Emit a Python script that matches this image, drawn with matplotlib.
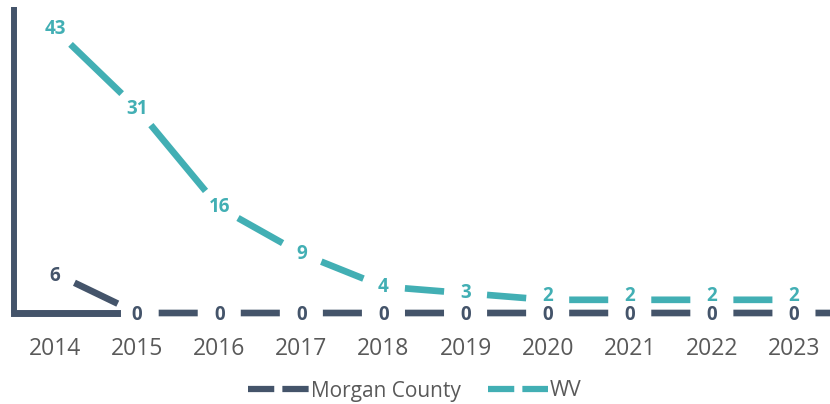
import matplotlib
matplotlib.use('Agg')
import matplotlib.pyplot as plt
from matplotlib.lines import Line2D


# ************ DATA ***************

YEARS = ['2014', '2015', '2016', '2017', '2018', '2019', '2020', '2021', '2022', '2023']
MORGAN = [6, 0, 0, 0, 0, 0, 0, 0, 0, 0]
WV = [43, 31, 16, 9, 4, 3, 2, 2, 2, 2]

DARK = '#44546A'
TEAL = '#42AFB4'
GREY = '#595959'

plt.rcParams['font.family'] = ['Open Sans', 'DejaVu Sans']


# ************ HELPERS ***************

def DrawSeries(ax, values, color, other, nudge, always=False, extend=False):

    xs = list(range(len(values)))

    # one dash per segment, trimmed at both ends so the point label sits in the gap
    pairs = list(zip(xs[:-1], values[:-1], xs[1:], values[1:]))
    if extend:
        pairs.append((xs[-1], values[-1], xs[-1] + 1, values[-1]))

    for x0, y0, x1, y1 in pairs:
        ax.annotate('', xy=(x1, y1), xytext=(x0, y0), annotation_clip=False,
                    arrowprops=dict(arrowstyle='-', color=color, lw=4.8,
                                    shrinkA=15.5, shrinkB=15.5, capstyle='butt'))

    # labels that sit close to the other series get pushed apart a little
    for x, v, o in zip(xs, values, other):
        dy = nudge if (always or abs(v - o) <= 2) else 0
        ax.annotate(str(v), xy=(x, v), xytext=(0, dy), textcoords='offset points',
                    color=color, fontsize=13.5, fontweight='bold', ha='center', va='center')


# ************ PLOT ***************

fig = plt.figure(figsize=(8.30, 4.04), dpi=100)
ax = fig.add_axes([14 / 830, 91 / 404, 821 / 830, 306 / 404])

DrawSeries(ax, WV, TEAL, MORGAN, 3.0)
DrawSeries(ax, MORGAN, DARK, WV, -1.5, always=True, extend=True)

ax.set_xlim(-0.5, len(YEARS) - 0.5)
ax.set_ylim(0, 46.4)

ax.set_xticks(range(len(YEARS)))
ax.set_xticklabels(YEARS, fontsize=16.5, color=GREY)
ax.tick_params(axis='x', length=0, pad=17)
ax.set_yticks([])

for side in ['top', 'right']:
    ax.spines[side].set_visible(False)
ax.spines['left'].set_color(DARK)
ax.spines['left'].set_linewidth(4.3)
ax.spines['bottom'].set_color(DARK)
ax.spines['bottom'].set_linewidth(5)
ax.spines['bottom'].set_bounds(-0.5, 0.75)
ax.spines['left'].set_capstyle('butt')

handles = [Line2D([], [], color=DARK, lw=4.5, dashes=(4.2, 1.3), solid_capstyle='butt', dash_capstyle='butt'),
           Line2D([], [], color=TEAL, lw=4.5, dashes=(4.2, 1.3), solid_capstyle='butt', dash_capstyle='butt')]
leg = fig.legend(handles, ['Morgan County', 'WV'], loc='center', bbox_to_anchor=(0.5, 13 / 404),
                 ncol=2, frameon=False, fontsize=15, handlelength=2.9, handletextpad=0.1,
                 columnspacing=1.3, labelcolor=GREY, borderpad=0)

fig.savefig('out.png', dpi=100)
